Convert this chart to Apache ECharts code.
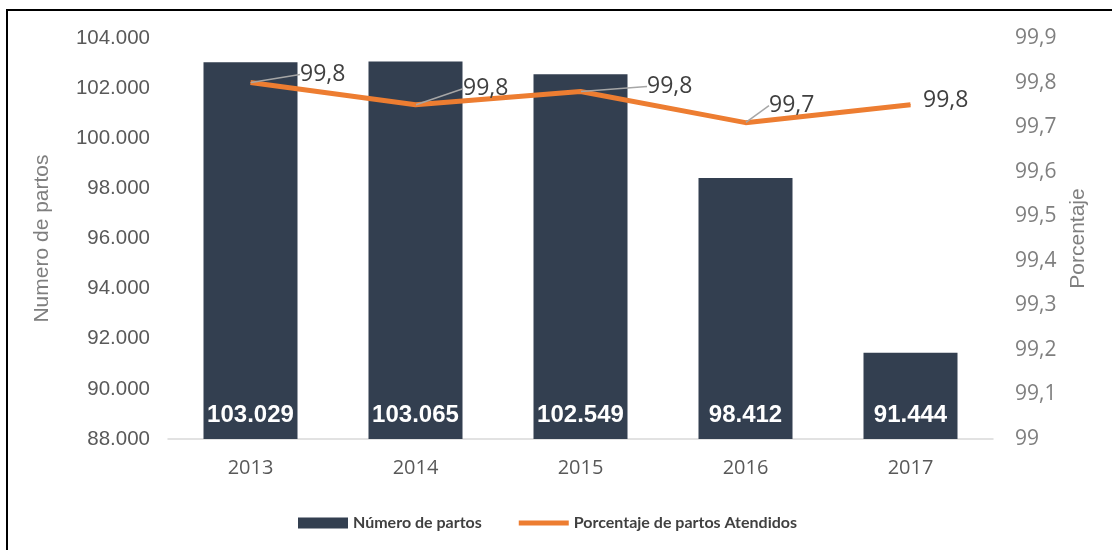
<!DOCTYPE html>
<html>
<head>
<meta charset="utf-8">
<script src="https://cdn.jsdelivr.net/npm/echarts@6/dist/echarts.min.js"></script>
<style>
	html, body { margin:0; padding:0; background:#fff; }
	#main { position:absolute; left:0; top:0; width:1112px; height:550px; }
	#frame { position:absolute; left:6px; top:9px; width:1120px; height:560px; border-left:2px solid #000; border-top:2px solid #000; pointer-events:none; }
</style>
</head>
<body>
<div id="main"></div>
<div id="frame"></div>
<script>
var years = ['2013', '2014', '2015', '2016', '2017'];
var partos = [103029, 103065, 102549, 98412, 91444];
var porcentaje = [99.80, 99.75, 99.78, 99.71, 99.75];
// desplazamiento de las etiquetas de porcentaje (dx, dy)
var labelShift = [[44, -8], [42, -16], [61, -5], [18, -17], [7, -4]];

function miles(v){
	return String(v).replace(/\B(?=(\d{3})+(?!\d))/g, '.');
}
function coma(v){
	return v.toFixed(1).replace('.', ',');
}

var myChart = echarts.init(document.getElementById('main'));

var lineData = [];
for (var i = 0; i < porcentaje.length; i++) {
	lineData.push({
		value: porcentaje[i],
		labelLine: { show: i < porcentaje.length - 1 }
	});
}

option = {
	animation: false,
	grid: { left: 168, right: 119, top: 38, bottom: 111 },
	legend: {
		top: 510,
		left: 293,
		itemWidth: 50,
		itemHeight: 11,
		itemGap: 37,
		textStyle: { fontFamily: 'Lato', fontWeight: 'bold', fontSize: 16, color: '#404040' },
		data: [
			{ name: 'Número de partos', icon: 'rect' },
			{ name: 'Porcentaje de partos Atendidos', icon: 'path://M0,0 L50,0 L50,5 L0,5 Z' }
		]
	},
	xAxis: {
		type: 'category',
		data: years,
		axisTick: { show: false },
		axisLine: { lineStyle: { color: '#d9d9d9', width: 1.5 } },
		axisLabel: { fontFamily: 'Open Sans', fontSize: 20, color: '#595959', margin: 19 }
	},
	yAxis: [
		{
			type: 'value',
			min: 88000,
			max: 104000,
			interval: 2000,
			name: 'Numero de partos',
			nameLocation: 'middle',
			nameRotate: 90,
			nameGap: 115,
			nameTextStyle: { fontFamily: 'Liberation Sans', fontSize: 21, color: '#7f7f7f' },
			splitLine: { show: false },
			axisLine: { show: false },
			axisTick: { show: false },
			axisLabel: { fontFamily: 'Liberation Sans', fontSize: 20.5, color: '#595959', margin: 18, formatter: miles }
		},
		{
			type: 'value',
			min: 99,
			max: 99.9,
			interval: 0.1,
			name: 'Porcentaje',
			nameLocation: 'middle',
			nameRotate: 90,
			nameGap: 75,
			nameTextStyle: { fontFamily: 'Liberation Sans', fontSize: 21, color: '#7f7f7f' },
			splitLine: { show: false },
			axisLine: { show: false },
			axisTick: { show: false },
			axisLabel: {
				fontFamily: 'Open Sans', fontSize: 21, color: '#7f7f7f', margin: 22,
				formatter: function(v){ return Math.abs(v - 99) < 1e-6 ? '99' : coma(v); }
			}
		}
	],
	series: [
		{
			name: 'Número de partos',
			type: 'bar',
			data: partos,
			barWidth: 94,
			itemStyle: { color: '#333f50' },
			label: {
				show: true,
				position: 'insideBottom',
				distance: 12,
				fontFamily: 'Liberation Sans',
				fontWeight: 'bold',
				fontSize: 24,
				color: '#ffffff',
				formatter: function(p){ return miles(p.value); }
			}
		},
		{
			name: 'Porcentaje de partos Atendidos',
			type: 'line',
			yAxisIndex: 1,
			data: lineData,
			symbol: 'circle',
			symbolSize: 1,
			itemStyle: { color: '#ed7d31' },
			lineStyle: { color: '#ed7d31', width: 5 },
			label: {
				show: true,
				position: 'right',
				distance: 5,
				fontFamily: 'Open Sans',
				fontSize: 23,
				color: '#404040',
				formatter: function(p){ return coma(p.value); }
			},
			labelLine: { show: true, lineStyle: { color: '#a6a6a6', width: 1.5 } },
			labelLayout: function(p){
				var s = labelShift[p.dataIndex];
				return { dx: s[0], dy: s[1] };
			}
		}
	]
};

myChart.setOption(option);
</script>
</body>
</html>
